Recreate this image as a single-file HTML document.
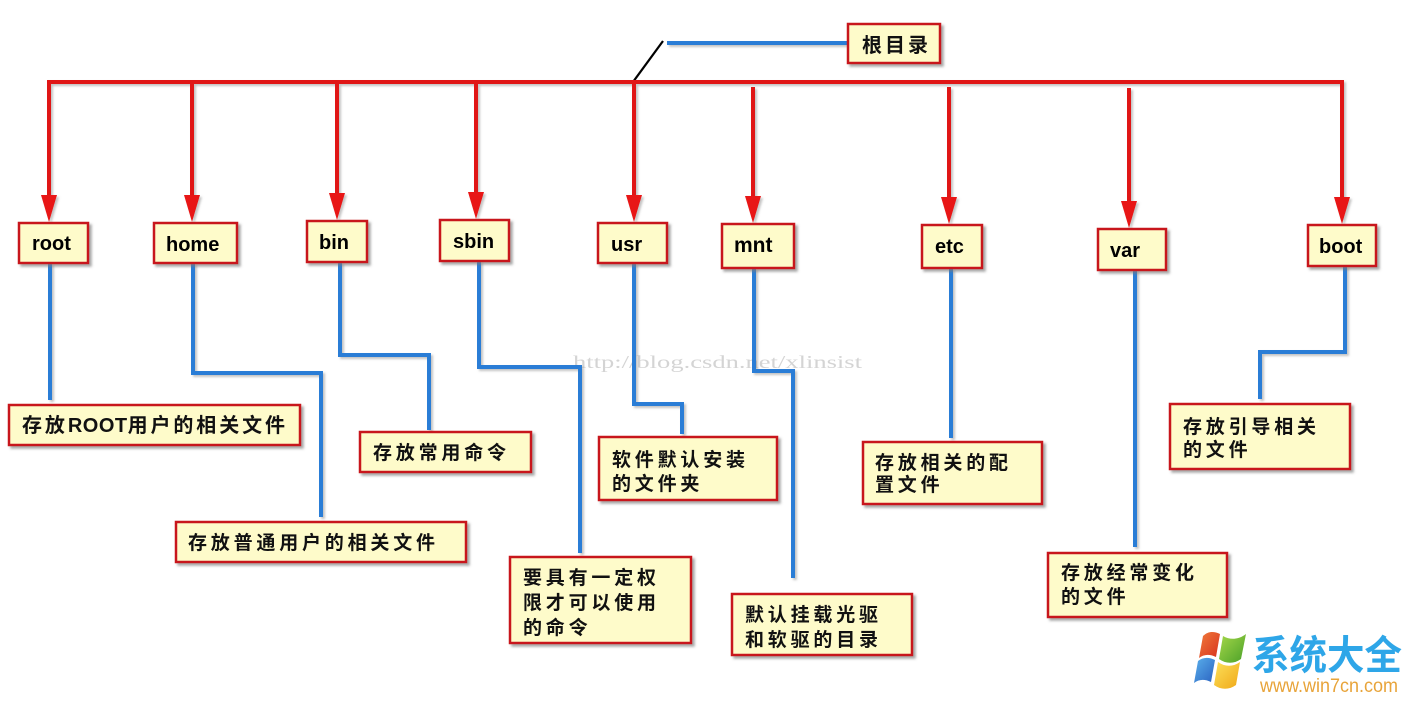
<!DOCTYPE html>
<html>
<head>
<meta charset="utf-8">
<style>
html,body{margin:0;padding:0;background:#fff;}
svg{display:block;}
.lbl{font-family:"Liberation Sans",Arial,sans-serif;font-weight:bold;font-size:20px;fill:#000;}
.cj{font-family:"Liberation Sans","Noto Sans CJK SC","WenQuanYi Zen Hei",sans-serif;font-weight:bold;font-size:19px;fill:#111;letter-spacing:3.8px;}
</style>
</head>
<body>
<svg width="1418" height="703" viewBox="0 0 1418 703" xmlns="http://www.w3.org/2000/svg">
<defs>
<filter id="sh" x="-20%" y="-20%" width="140%" height="140%">
<feDropShadow dx="2.5" dy="2.5" stdDeviation="1.2" flood-color="#777" flood-opacity="0.65"/>
</filter>
<filter id="lsh" x="-20%" y="-20%" width="140%" height="140%">
<feDropShadow dx="2" dy="2" stdDeviation="1" flood-color="#888" flood-opacity="0.5"/>
</filter>
<linearGradient id="gr" x1="0" y1="0" x2="1" y2="1"><stop offset="0" stop-color="#f07a3a"/><stop offset="1" stop-color="#d8321e"/></linearGradient>
<linearGradient id="gg" x1="0" y1="0" x2="1" y2="1"><stop offset="0" stop-color="#a6d84a"/><stop offset="1" stop-color="#4aa028"/></linearGradient>
<linearGradient id="gb" x1="0" y1="0" x2="1" y2="1"><stop offset="0" stop-color="#5ab0ec"/><stop offset="1" stop-color="#2a62c0"/></linearGradient>
<linearGradient id="gy" x1="0" y1="0" x2="1" y2="1"><stop offset="0" stop-color="#fce05a"/><stop offset="1" stop-color="#f0a818"/></linearGradient>
</defs>

<!-- watermark -->
<text x="573" y="368" font-family="Liberation Serif, serif" font-size="18" fill="#d4d4d4" textLength="289" lengthAdjust="spacingAndGlyphs">http://blog.csdn.net/xlinsist</text>

<!-- blue connectors -->
<g fill="none" stroke="#2b7dd6" stroke-width="4" stroke-linejoin="miter" filter="url(#lsh)">
<path d="M667,43 H847"/>
<path d="M50,263 V400"/>
<path d="M193,263 V373 H321 V517"/>
<path d="M340,262 V355 H429 V430"/>
<path d="M479,261 V367 H580 V553"/>
<path d="M634,263 V404 H682 V434"/>
<path d="M754,268 V371 H793 V578"/>
<path d="M951,268 V438"/>
<path d="M1135,270 V547"/>
<path d="M1345,266 V352 H1260 V399"/>
</g>

<!-- black diagonal -->
<path d="M663,41 L633,82" stroke="#000" stroke-width="2.2" fill="none"/>

<!-- red tree -->
<g fill="none" stroke="#e01818" stroke-width="4" filter="url(#lsh)">
<path d="M49,200 V82 H1342 V200"/>
<path d="M192,82 V198"/>
<path d="M337,82 V196"/>
<path d="M476,82 V195"/>
<path d="M634,82 V198"/>
<path d="M753,87 V199"/>
<path d="M949,87 V200"/>
<path d="M1129,88 V204"/>
</g>
<g fill="#e81414" filter="url(#lsh)">
<polygon points="41,195 57,195 49,222"/>
<polygon points="184,195 200,195 192,222"/>
<polygon points="329,193 345,193 337,220"/>
<polygon points="468,192 484,192 476,219"/>
<polygon points="626,195 642,195 634,222"/>
<polygon points="745,196 761,196 753,223"/>
<polygon points="941,197 957,197 949,224"/>
<polygon points="1121,201 1137,201 1129,228"/>
<polygon points="1334,197 1350,197 1342,224"/>
</g>

<!-- boxes -->
<g fill="#fefbca" stroke="#c8161d" stroke-width="2.5" filter="url(#sh)">
<rect x="848" y="24" width="92" height="39"/>
<rect x="19" y="223" width="69" height="40"/>
<rect x="154" y="223" width="83" height="40"/>
<rect x="307" y="221" width="60" height="41"/>
<rect x="440" y="220" width="69" height="41"/>
<rect x="598" y="223" width="69" height="40"/>
<rect x="722" y="224" width="72" height="44"/>
<rect x="922" y="225" width="60" height="43"/>
<rect x="1098" y="229" width="68" height="41"/>
<rect x="1308" y="225" width="68" height="41"/>

<rect x="9" y="405" width="291" height="40"/>
<rect x="176" y="522" width="290" height="40"/>
<rect x="360" y="432" width="171" height="40"/>
<rect x="510" y="557" width="181" height="86"/>
<rect x="599" y="437" width="178" height="63"/>
<rect x="732" y="594" width="180" height="61"/>
<rect x="863" y="442" width="179" height="62"/>
<rect x="1048" y="553" width="179" height="64"/>
<rect x="1170" y="404" width="180" height="65"/>
</g>

<!-- node labels -->
<text class="cj" x="862" y="52" style="font-size:20px;letter-spacing:3px">根目录</text>
<text class="lbl" x="32" y="250">root</text>
<text class="lbl" x="166" y="251">home</text>
<text class="lbl" x="319" y="249">bin</text>
<text class="lbl" x="453" y="248">sbin</text>
<text class="lbl" x="611" y="251">usr</text>
<text class="lbl" x="734" y="252" style="font-size:21px">mnt</text>
<text class="lbl" x="935" y="253">etc</text>
<text class="lbl" x="1110" y="257">var</text>
<text class="lbl" x="1319" y="253">boot</text>

<!-- descriptions -->
<text class="cj" x="22" y="432" style="font-size:20px;letter-spacing:2.9px">存放<tspan font-family="Liberation Sans, sans-serif" letter-spacing="0.5">ROOT</tspan>用户的相关文件</text>
<text class="cj" x="188" y="549">存放普通用户的相关文件</text>
<text class="cj" x="373" y="459">存放常用命令</text>
<text class="cj" x="523" y="584">要具有一定权</text>
<text class="cj" x="523" y="609">限才可以使用</text>
<text class="cj" x="523" y="634">的命令</text>
<text class="cj" x="612" y="466">软件默认安装</text>
<text class="cj" x="612" y="490">的文件夹</text>
<text class="cj" x="745" y="621">默认挂载光驱</text>
<text class="cj" x="745" y="646">和软驱的目录</text>
<text class="cj" x="875" y="469">存放相关的配</text>
<text class="cj" x="875" y="491">置文件</text>
<text class="cj" x="1061" y="579">存放经常变化</text>
<text class="cj" x="1061" y="603">的文件</text>
<text class="cj" x="1183" y="433">存放引导相关</text>
<text class="cj" x="1183" y="456">的文件</text>

<!-- logo -->
<g>
<path d="M1203,636 C1208,631 1214,631 1220,634 L1216,657 C1210,654 1204,654 1199,658 Z" fill="url(#gr)"/>
<path d="M1223,636 C1230,640 1238,640 1246,634 L1241,659 C1234,664 1226,664 1219,659 Z" fill="url(#gg)"/>
<path d="M1198,661 C1203,657 1209,657 1215,660 L1211,682 C1205,679 1199,679 1194,683 Z" fill="url(#gb)"/>
<path d="M1218,662 C1225,667 1233,667 1240,662 L1236,685 C1229,690 1221,690 1214,685 Z" fill="url(#gy)"/>
</g>
<text x="1252" y="669" font-family="Liberation Sans, 'Noto Sans CJK SC', sans-serif" font-weight="bold" font-size="40" fill="#2ea6e8" textLength="150" lengthAdjust="spacingAndGlyphs">系统大全</text>
<text x="1260" y="692" font-family="Liberation Sans, sans-serif" font-size="19" fill="#e8a43a" textLength="138" lengthAdjust="spacingAndGlyphs">www.win7cn.com</text>
</svg>
</body>
</html>
